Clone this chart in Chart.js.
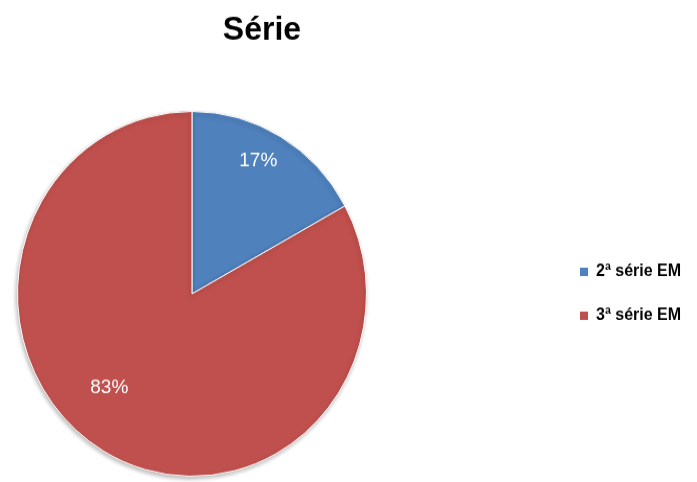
<!DOCTYPE html>
<html>
<head>
<meta charset="utf-8">
<script src="https://cdn.jsdelivr.net/npm/chart.js@4/dist/chart.umd.min.js"></script>
<style>
  html, body { margin: 0; padding: 0; background: #fff; }
  #wrap { width: 697px; height: 482px; }
  /* canvas is drawn a bit shorter and stretched, so the pie comes out slightly oval */
  #pieCanvas { width: 697px !important; height: 482px !important; display: block; }
</style>
</head>
<body>
<div id="wrap"><canvas id="pieCanvas" width="697" height="461"></canvas></div>
<script>
const chartTitle = 'Série';
const categories = ['2ª série EM', '3ª série EM'];
const shares = [17, 83];
const sliceColors = ['#4F81BD', '#C0504D'];

// where each percentage sits: fraction of the radius, and a small turn in degrees
const labelRadius = [0.82, 0.70];
const labelTurn = [-3, 12];

const pieShadow = {
  id: 'pieShadow',
  beforeDatasetsDraw(chart) {
    const ctx = chart.ctx;
    ctx.save();
    ctx.shadowColor = 'rgba(0, 0, 0, 0.28)';
    ctx.shadowBlur = 4;
    ctx.shadowOffsetX = -1;
    ctx.shadowOffsetY = 2;
  },
  afterDatasetsDraw(chart) {
    chart.ctx.restore();
  }
};

// title, legend and percentage labels drawn by hand
const decorations = {
  id: 'decorations',
  afterDraw(chart) {
    const ctx = chart.ctx;
    const meta = chart.getDatasetMeta(0);
    ctx.save();

    ctx.font = '19px "Liberation Sans", Arial, sans-serif';
    ctx.fillStyle = '#ffffff';
    ctx.textAlign = 'center';
    ctx.textBaseline = 'middle';
    meta.data.forEach((arc, i) => {
      const mid = (arc.startAngle + arc.endAngle) / 2 + labelTurn[i] * Math.PI / 180;
      const r = arc.outerRadius * labelRadius[i];
      ctx.fillText(shares[i] + '%', arc.x + Math.cos(mid) * r, arc.y + Math.sin(mid) * r);
    });

    ctx.font = 'bold 32px "Liberation Sans", Arial, sans-serif';
    ctx.fillStyle = '#000000';
    ctx.fillText(chartTitle, 262, 29);

    ctx.font = 'bold 16px "Liberation Sans Narrow", "Liberation Sans", Arial, sans-serif';
    ctx.textAlign = 'left';
    categories.forEach((name, i) => {
      const y = 260 + i * 42;
      ctx.fillStyle = sliceColors[i];
      ctx.fillRect(580, y - 4, 8, 8);
      ctx.fillStyle = '#000000';
      ctx.fillText(name, 596, y);
    });
    ctx.restore();
  }
};

new Chart(document.getElementById('pieCanvas'), {
  type: 'pie',
  data: {
    labels: categories,
    datasets: [{
      data: shares,
      backgroundColor: sliceColors,
      borderColor: '#ffffff',
      borderWidth: 1
    }]
  },
  options: {
    responsive: false,
    animation: false,
    devicePixelRatio: 1,
    layout: {
      padding: { top: 106, left: 17, right: 330, bottom: 5 }
    },
    plugins: {
      legend: { display: false },
      title: { display: false },
      tooltip: { enabled: false }
    }
  },
  plugins: [pieShadow, decorations]
});
</script>
</body>
</html>
